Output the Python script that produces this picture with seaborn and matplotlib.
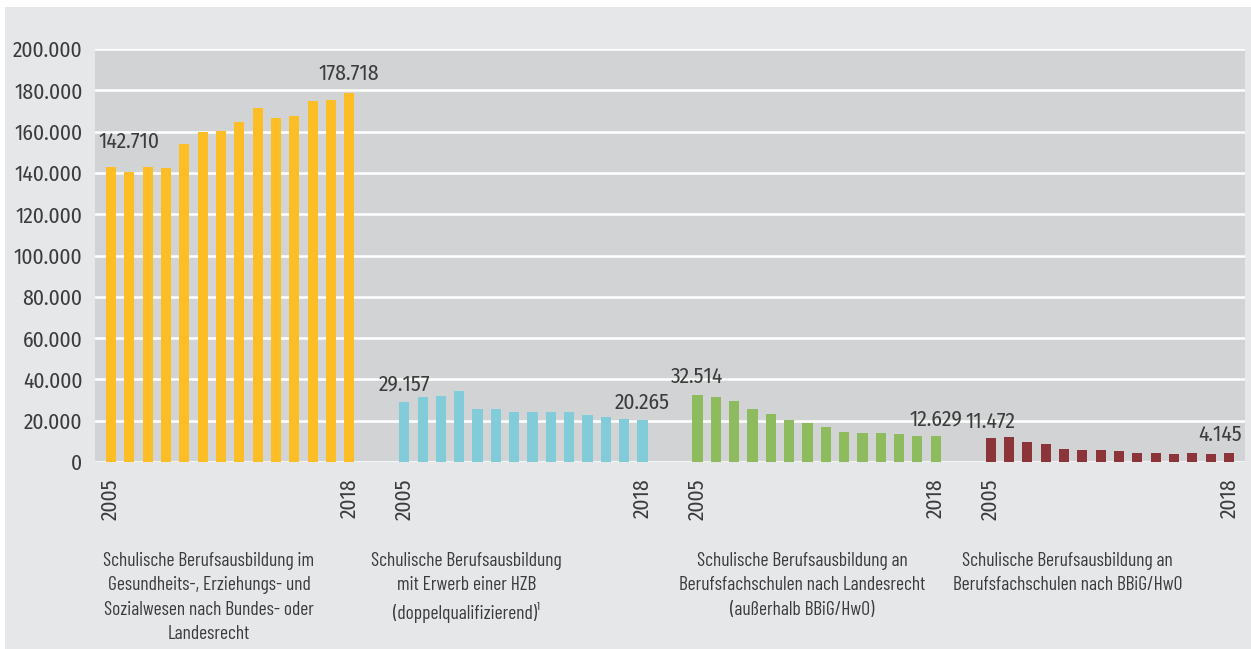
import pandas as pd
import matplotlib
matplotlib.use('Agg')
import matplotlib.pyplot as plt
import seaborn as sns
from matplotlib.patches import Rectangle
from matplotlib.ticker import FuncFormatter

# Schulische Berufsausbildung, Anfänger/-innen 2005-2018
years = list(range(2005, 2019))
group_names = [
    "Schulische Berufsausbildung im\nGesundheits-, Erziehungs- und\nSozialwesen nach Bundes- oder\nLandesrecht",
    "Schulische Berufsausbildung\nmit Erwerb einer HZB\n(doppelqualifizierend)¹",
    "Schulische Berufsausbildung an\nBerufsfachschulen nach Landesrecht\n(außerhalb BBiG/HwO)",
    "Schulische Berufsausbildung an\nBerufsfachschulen nach BBiG/HwO",
]
gesundheit = [142710, 140650, 143000, 142600, 154200, 160000, 160500,
              164800, 171600, 166800, 167700, 175000, 175400, 178718]
hzb = [29157, 31650, 32150, 34600, 25700, 25700, 24200,
       24200, 24200, 24200, 22700, 21700, 20700, 20265]
landesrecht = [32514, 31500, 29550, 25600, 23100, 20150, 18650,
               17150, 14700, 14200, 14200, 13700, 12700, 12629]
bbig = [11472, 12000, 9900, 8900, 6300, 5800, 5800,
        5300, 4300, 4300, 3800, 4300, 3800, 4145]
series = [gesundheit, hzb, landesrecht, bbig]
colors = ['#fdbd25', '#82cbd8', '#8fbb5f', '#8b3439']

text_col = '#3c3c3c'

sns.set_style('white')
plt.rcParams['font.family'] = ['Fira Sans Condensed', 'Barlow Semi Condensed', 'DejaVu Sans']
caption_font = ['Barlow Condensed', 'Fira Sans Condensed', 'DejaVu Sans']

# long table, 2 empty slots between the groups
rows = []
for g, vals in enumerate(series):
    for i, (yr, v) in enumerate(zip(years, vals)):
        rows.append({'group': g, 'year': yr, 'value': v, 'pos': g * 16 + i})
df = pd.DataFrame(rows)

fig = plt.figure(figsize=(12.51, 6.49), dpi=100)
fig.patch.set_facecolor('#e6e7e9')
# thin white margin top and left
fig.patches.append(Rectangle((0, 1 - 7 / 649), 1, 7 / 649, transform=fig.transFigure,
                             facecolor='white', edgecolor='none'))
fig.patches.append(Rectangle((0, 0), 5 / 1251, 1, transform=fig.transFigure,
                             facecolor='white', edgecolor='none'))
ax = fig.add_axes([95 / 1251, 1 - 462 / 649, 1150 / 1251, 413 / 649])
ax.set_facecolor('#d2d3d5')

sns.barplot(data=df, x='pos', y='value', hue='group', palette=colors,
            native_scale=True, dodge=False, width=0.55, legend=False,
            saturation=1, linewidth=0, ax=ax)

ax.set_xlim(-0.87, 61.87)
ax.set_ylim(0, 200000)
ax.set_yticks(range(0, 200001, 20000))
ax.yaxis.set_major_formatter(FuncFormatter(lambda v, p: f"{int(v):,}".replace(',', '.')))
ax.yaxis.grid(True, color='white', linewidth=1.8)
ax.set_axisbelow(True)
for s in ax.spines.values():
    s.set_visible(False)
ax.tick_params(axis='y', length=0, pad=9, labelsize=15.5, labelcolor=text_col)

# year ticks at first and last bar of each group
xt, xl = [], []
for g in range(4):
    xt += [g * 16, g * 16 + 13]
    xl += [str(years[0]), str(years[-1])]
ax.set_xticks(xt)
ax.set_xticklabels(xl, rotation=90, fontsize=15.5, color=text_col)
ax.tick_params(axis='x', length=0, pad=12)
ax.set_xlabel('')
ax.set_ylabel('')

# value labels on first and last bar
offsets = [((18, 26), (0, 19)), ((0, 18), (0, 17)), ((0, 18), (0, 17)), ((0, 17), (-9, 19))]
for g, vals in enumerate(series):
    for k, i in enumerate([0, 13]):
        v = vals[i]
        ax.annotate(f"{v:,}".replace(',', '.'), xy=(g * 16 + i, v),
                    xytext=offsets[g][k], textcoords='offset pixels',
                    ha='center', va='center', fontsize=15.5, color=text_col)

# group captions
cap_x = [5.35, 19.4, 37.7, 52.2]
trans = matplotlib.transforms.blended_transform_factory(ax.transData, fig.transFigure)
for x, name in zip(cap_x, group_names):
    ax.text(x, 1 - 552 / 649, name, transform=trans, ha='center', va='top',
            fontsize=14, color=text_col, linespacing=1.45, family=caption_font)

fig.savefig('out.png', dpi=100)
